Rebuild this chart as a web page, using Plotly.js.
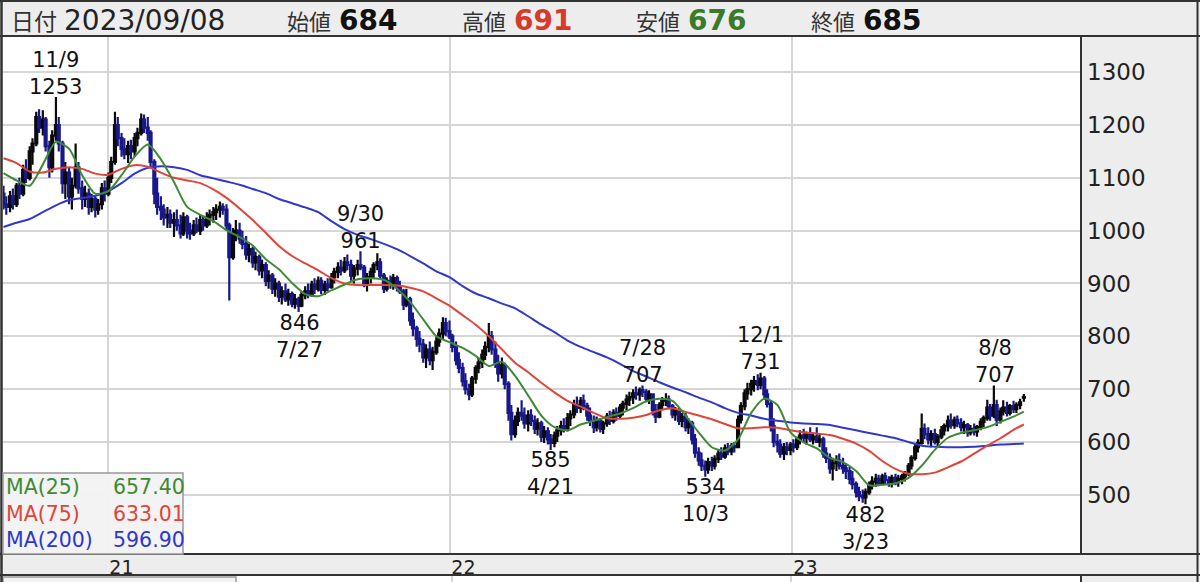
<!DOCTYPE html>
<html>
<head>
<meta charset="utf-8">
<script src="https://cdn.plot.ly/plotly-3.0.1.min.js"></script>
<style>html,body{margin:0;padding:0;background:#ededed;}#chart{width:1200px;height:582px;}</style>
</head>
<body>
<div id="chart"></div>
<script>
// ---- candle data (twice-weekly samples) ----
const dates = [
'200914','200917','200921','200924','200928','201001','201005','201008','201012','201015','201019','201022','201026','201029','201102','201105',
'201109','201112','201116','201119','201123','201126','201130','201203','201207','201210','201214','201217','201221','201224','201228','201231',
'210104','210107','210111','210114','210118','210121','210125','210128','210201','210204','210208','210211','210215','210218','210222','210225',
'210301','210304','210308','210311','210315','210318','210322','210325','210329','210401','210405','210408','210412','210415','210419','210422',
'210426','210429','210503','210506','210510','210513','210517','210520','210524','210527','210531','210603','210607','210610','210614','210617',
'210621','210624','210628','210701','210705','210708','210712','210715','210719','210722','210726','210729','210802','210805','210809','210812',
'210816','210819','210823','210826','210830','210902','210906','210909','210913','210916','210920','210923','210927','210930','211004','211007',
'211011','211014','211018','211021','211025','211028','211101','211104','211108','211111','211115','211118','211122','211125','211129','211202',
'211206','211209','211213','211216','211220','211223','211227','211230','220103','220106','220110','220113','220117','220120','220124','220127',
'220131','220203','220207','220210','220214','220217','220221','220224','220228','220303','220307','220310','220314','220317','220321','220324',
'220328','220331','220404','220407','220411','220414','220418','220421','220425','220428','220502','220505','220509','220512','220516','220519',
'220523','220526','220530','220602','220606','220609','220613','220616','220620','220623','220627','220630','220704','220707','220711','220714',
'220718','220721','220725','220728','220801','220804','220808','220811','220815','220818','220822','220825','220829','220901','220905','220908',
'220912','220915','220919','220922','220926','220929','221003','221006','221010','221013','221017','221020','221024','221027','221031','221103',
'221107','221110','221114','221117','221121','221124','221128','221201','221205','221208','221212','221215','221219','221222','221226','221229',
'230102','230105','230109','230112','230116','230119','230123','230126','230130','230202','230206','230209','230213','230216','230220','230223',
'230227','230302','230306','230309','230313','230316','230320','230323','230327','230330','230403','230406','230410','230413','230417','230420',
'230424','230427','230501','230504','230508','230511','230515','230518','230522','230525','230529','230601','230605','230608','230612','230615',
'230619','230622','230626','230629','230703','230706','230710','230713','230717','230720','230724','230727','230731','230803','230807','230810',
'230814','230817','230821','230824','230828','230831','230904','230908'];
const open = [
1070,1050,1045,1065,1050,1085,1070,1115,1100,1150,1165,1215,1195,1210,1160,1120,
1180,1200,1165,1090,1110,1065,1085,1120,1080,1060,1070,1045,1060,1040,1050,1080,
1070,1100,1130,1200,1175,1155,1145,1160,1150,1175,1185,1210,1195,1185,1130,1070,
1045,1040,1025,1030,1015,1020,1010,995,1025,1000,995,1010,1000,1020,1010,1025,
1030,1035,1040,1045,1040,1010,950,995,1000,985,975,955,965,940,950,925,
935,905,915,890,900,875,885,870,880,862,870,858,878,885,880,898,
890,905,888,898,893,912,922,930,925,940,935,915,928,935,930,900,
912,922,935,940,915,890,905,900,910,895,885,860,870,830,815,795,
785,760,775,755,770,790,805,825,810,800,780,755,740,715,700,690,
720,740,750,765,780,800,775,750,730,745,710,655,615,640,655,650,
635,650,640,625,635,610,620,605,598,612,622,630,625,645,652,670,
665,678,668,650,640,628,640,625,635,648,640,655,650,665,672,680,
685,692,690,698,695,682,690,660,648,670,678,680,668,652,660,640,
648,628,635,605,580,565,555,548,562,555,568,578,572,588,582,592,
590,642,668,692,700,710,715,708,720,690,672,630,600,595,578,590,
585,595,590,605,612,608,615,605,610,600,605,578,570,550,560,565,
555,550,545,530,520,505,498,495,505,518,525,530,522,535,528,522,
532,525,530,535,540,555,570,590,598,625,615,605,615,600,610,622,
630,640,632,642,635,628,632,618,625,620,628,638,645,665,650,670,
642,658,665,655,668,662,670,684];
const high = [
1085,1065,1075,1080,1090,1100,1125,1135,1160,1175,1225,1230,1228,1215,1170,1190,
1253,1215,1170,1130,1120,1100,1165,1130,1095,1085,1080,1070,1065,1060,1090,1095,
1110,1140,1225,1215,1185,1175,1170,1172,1185,1195,1222,1220,1215,1190,1135,1100,
1065,1050,1045,1040,1035,1040,1030,1035,1030,1015,1020,1025,1030,1028,1035,1040,
1045,1050,1055,1052,1050,1015,1005,1020,1015,1000,990,975,970,960,955,945,
940,925,920,910,905,895,900,890,885,880,875,885,895,900,905,910,
913,912,905,910,920,930,940,945,950,955,945,935,945,961,935,920,
930,940,957,948,920,912,915,918,915,905,890,890,875,845,820,810,
795,785,790,780,800,815,836,835,830,805,790,770,750,730,710,725,
745,760,775,790,825,810,790,765,760,750,715,670,650,665,679,665,
660,662,650,645,640,630,628,615,620,630,640,645,655,660,680,686,
685,690,674,665,650,648,645,640,655,659,662,665,672,678,690,695,
700,705,703,707,700,698,692,672,675,685,692,688,672,666,665,655,
655,645,640,615,590,580,565,570,572,575,585,590,595,598,598,600,
650,675,700,712,718,725,728,731,725,700,679,645,615,605,598,600,
600,605,610,622,625,620,628,618,628,615,610,590,578,570,575,578,
570,560,553,545,525,515,510,512,525,535,540,538,540,542,535,538,
540,538,540,545,560,575,598,605,654,635,628,622,625,615,630,635,
650,654,648,650,645,640,636,632,635,632,645,650,680,672,707,680,
665,679,676,672,678,675,682,691];
const low = [
1040,1030,1035,1040,1045,1060,1065,1090,1095,1125,1160,1185,1180,1150,1100,1110,
1170,1150,1070,1060,1050,1040,1080,1070,1040,1045,1030,1035,1025,1030,1040,1055,
1065,1090,1125,1160,1140,1135,1128,1135,1140,1160,1180,1185,1170,1120,1050,1030,
1020,1010,1005,1005,988,1000,985,990,985,983,990,995,992,1000,1005,1010,
1015,1020,1025,1030,1000,868,945,980,975,965,945,940,930,925,915,910,
895,890,880,875,865,860,865,858,855,852,846,855,870,872,875,880,
885,880,878,885,890,900,910,915,920,925,905,900,915,925,893,885,
900,910,925,910,882,885,890,888,885,880,850,855,820,800,780,770,
750,740,745,736,765,780,795,800,795,770,745,730,705,690,679,685,
710,730,740,755,770,765,740,714,720,700,640,603,608,630,640,625,
620,630,615,612,600,598,595,585,590,600,612,618,620,630,645,655,
655,660,640,630,617,620,618,615,629,632,635,640,645,650,660,668,
672,680,678,685,675,672,650,636,645,660,668,662,645,640,632,628,
620,615,595,570,555,545,534,540,545,548,560,566,568,575,575,580,
588,635,660,680,688,695,698,700,680,665,620,590,580,570,566,575,
575,580,585,595,600,595,600,595,598,590,570,560,540,527,545,548,
540,530,520,510,495,488,485,482,500,510,515,516,518,520,515,514,
518,515,520,525,535,548,565,580,595,605,595,590,595,592,605,612,
620,625,625,628,620,615,610,612,612,610,622,628,640,640,645,630,
635,650,648,650,655,655,662,676];
const close = [
1050,1045,1065,1050,1085,1070,1115,1100,1150,1165,1215,1195,1210,1160,1120,1180,
1200,1165,1090,1110,1065,1085,1120,1080,1060,1070,1045,1060,1040,1050,1080,1070,
1100,1130,1200,1175,1155,1145,1160,1150,1175,1185,1210,1195,1185,1130,1070,1045,
1040,1025,1030,1015,1020,1010,995,1025,1000,995,1010,1000,1020,1010,1025,1030,
1035,1040,1045,1040,1010,950,995,1000,985,975,955,965,940,950,925,935,
905,915,890,900,875,885,870,880,862,870,858,878,885,880,898,890,
905,888,898,893,912,922,930,925,940,935,915,928,935,930,900,912,
922,935,940,915,890,905,900,910,895,885,860,870,830,815,795,785,
760,775,755,770,790,805,825,810,800,780,755,740,715,700,690,720,
740,750,765,780,800,775,750,730,745,710,655,615,640,655,650,635,
650,640,625,635,610,620,605,598,612,622,630,625,645,652,670,665,
678,668,650,640,628,640,625,635,648,640,655,650,665,672,680,685,
692,690,698,695,682,690,660,648,670,678,680,668,652,660,640,648,
628,635,605,580,565,555,548,562,555,568,578,572,588,582,592,590,
642,668,692,700,710,715,708,720,690,672,630,600,595,578,590,585,
595,590,605,612,608,615,605,610,600,605,578,570,550,560,565,555,
550,545,530,520,505,498,495,505,518,525,530,522,535,528,522,532,
525,530,535,540,555,570,590,598,625,615,605,615,600,610,622,630,
640,632,642,635,628,632,618,625,620,628,638,645,665,650,670,642,
658,665,655,668,662,670,675,685];

// ---- moving averages (bi-weekly) ----
const maDates = ['200914','200928','201012','201026','201109','201123','201207','201221','210104','210118','210201','210215','210301','210315','210329','210412','210426','210510','210524','210607','210621','210705','210719','210802','210816','210830','210913','210927','211011','211025','211108','211122','211206','211220','220103','220117','220131','220214','220228','220314','220328','220411','220425','220509','220523','220606','220620','220704','220718','220801','220815','220829','220912','220926','221010','221024','221107','221121','221205','221219','230102','230116','230130','230213','230227','230313','230327','230410','230424','230508','230522','230605','230619','230703','230717','230731','230814','230828','230908'];
const ma25 = [1109,1095,1085,1125,1168,1155,1105,1070,1075,1105,1140,1163,1135,1092,1045,1030,1018,1001,988,972,946,927,901,880,876,887,898,908,910,907,890,865,832,800,789,778,763,744,752,725,688,650,628,622,633,640,647,654,664,677,682,678,650,618,590,584,605,655,682,670,618,599,588,570,562,545,518,519,522,532,555,585,608,617,622,628,638,648,657.40];
const ma75 = [1137,1128,1112,1110,1117,1120,1117,1108,1106,1117,1124,1121,1110,1100,1095,1090,1078,1062,1042,1020,996,971,952,938,925,910,900,897,897,897,896,892,885,872,858,840,822,800,775,750,732,712,694,678,667,655,645,644,646,651,660,664,657,650,643,634,626,626,628,627,622,618,616,613,606,597,583,564,549,540,539,542,552,563,578,593,607,623,633.01];
const ma200 = [1007,1015,1022,1035,1048,1058,1062,1066,1075,1090,1108,1119,1122,1120,1115,1105,1099,1093,1087,1079,1071,1060,1052,1044,1035,1018,1003,992,984,975,965,952,938,923,912,895,881,872,862,853,838,822,808,792,780,770,760,748,734,724,713,703,694,684,675,664,655,650,644,640,637,635,634,632,627,622,617,612,607,600,593,591,590,590,591,593,595,596,596.90];
const maNames = ['MA(25)','MA(75)','MA(200)'];
const maColors = ['#3f8a35','#e0453a','#3038cc'];

// ---- marked highs / lows ----
const extDates = ['2020-11-09','2021-07-27','2021-09-30','2022-04-21','2022-07-28','2022-10-03','2022-12-01','2023-03-23','2023-08-08'];
const extValues = [1253,846,961,585,707,534,731,482,707];
const extKinds = ['high','low','high','low','high','low','high','low','high'];

// ---- axis ticks ----
const yTicks = [500,600,700,800,900,1000,1100,1200,1300];
const xTickDates = ['2021-01-04','2022-01-04','2023-01-04'];
const xTickText = ['21','22','23'];
const headerNames = ['始値','高値','安値','終値'];

// ---------------------------------------------------------------
const iso = s => '20'+s.slice(0,2)+'-'+s.slice(2,4)+'-'+s.slice(4,6);
const W=1200, H=582, L=3, R=1081, T=37, B=553;
const X = p => (p-L)/(R-L);
const Y = p => (B-p)/(B-T);
const NUM = 'DejaVu Sans, Noto Sans CJK JP, sans-serif';
const CJK = 'Noto Sans CJK JP, DejaVu Sans, sans-serif';

const candleColorDown = '#18188a';
const traces = [{
  type:'candlestick', x: dates.map(iso), open, high, low, close,
  increasing:{line:{color:'#0a0a0a',width:2.2}, fillcolor:'#0a0a0a'},
  decreasing:{line:{color:candleColorDown,width:2.2}, fillcolor:candleColorDown},
  whiskerwidth:0, hoverinfo:'skip', showlegend:false
}];
const maSeries = [ma25, ma75, ma200];
[2,1,0].forEach(i => traces.push({
  type:'scatter', mode:'lines', x: maDates.map(iso), y: maSeries[i],
  line:{color:maColors[i], width:2, shape:'spline', smoothing:0.7},
  hoverinfo:'skip', showlegend:false
}));

const ann = [];
// extreme labels (date on top line for highs, value on top line for lows)
extDates.forEach((d,i) => {
  const [yy,mm,dd] = d.split('-');
  const isHigh = extKinds[i]==='high';
  const dt = (+mm)+'/'+(+dd), v = String(extValues[i]);
  ann.push({x:d, y:extValues[i], xref:'x', yref:'y', showarrow:false,
    xanchor:'center', yanchor:'middle', yshift: isHigh ? 24 : -24,
    text: isHigh ? dt+'<br>'+v : v+'<br>'+dt,
    font:{family:NUM, size:21, color:'#111'}});
});
// header
const last = dates.length-1;
const hdrY = Y(20.5);
const lastISO = iso(dates[last]).replace(/-/g,'/');
const hv = [open[last], high[last], low[last], close[last]];
const hc = ['#111111','#d63a2c','#3a7a2a','#111111'];
const hx = [285,460,634,809];
ann.push({xref:'paper',yref:'paper',x:X(9),y:hdrY,xanchor:'left',yanchor:'middle',showarrow:false,
  text:'日付',font:{family:CJK,size:23,color:'#333'}});
ann.push({xref:'paper',yref:'paper',x:X(62),y:hdrY,xanchor:'left',yanchor:'middle',showarrow:false,
  text:lastISO,font:{family:NUM,size:28,color:'#222'}});
headerNames.forEach((n,i) => {
  ann.push({xref:'paper',yref:'paper',x:X(hx[i]),y:hdrY,xanchor:'left',yanchor:'middle',showarrow:false,
    text:n,font:{family:CJK,size:22,color:'#333'}});
  ann.push({xref:'paper',yref:'paper',x:X(hx[i]+52),y:hdrY,xanchor:'left',yanchor:'middle',showarrow:false,
    text:'<b>'+hv[i]+'</b>',font:{family:NUM,size:28,color:hc[i]}});
});
// MA legend box text
const rowY = [487,514,540];
maNames.forEach((n,i) => {
  const v = maSeries[i][maSeries[i].length-1].toFixed(2);
  ann.push({xref:'paper',yref:'paper',x:X(4),y:Y(rowY[i]),xanchor:'left',yanchor:'middle',showarrow:false,
    text:n,font:{family:NUM,size:20.5,color:maColors[i]}});
  ann.push({xref:'paper',yref:'paper',x:X(111),y:Y(rowY[i]),xanchor:'left',yanchor:'middle',showarrow:false,
    text:v,font:{family:NUM,size:20.5,color:maColors[i]}});
});

const dark = '#333333';
const shapes = [
  // bottom (next panel) white strip
  {type:'rect',xref:'paper',yref:'paper',x0:X(3),x1:X(R),y0:Y(576),y1:Y(584),fillcolor:'#ffffff',line:{width:0},layer:'below'},
  {type:'line',xref:'paper',yref:'paper',x0:X(452),x1:X(452),y0:Y(576),y1:Y(584),line:{color:'#d6d6d6',width:2}},
  {type:'line',xref:'paper',yref:'paper',x0:X(791),x1:X(791),y0:Y(576),y1:Y(584),line:{color:'#d6d6d6',width:2}},
  {type:'rect',xref:'paper',yref:'paper',x0:X(3),x1:X(236),y0:Y(577),y1:Y(590),fillcolor:'#f2f2f2',line:{color:'#999',width:1.5}},
  // header bottom line
  {type:'line',xref:'paper',yref:'paper',x0:X(0),x1:X(1200),y0:Y(36),y1:Y(36),line:{color:dark,width:2}},
  // x band lines
  {type:'line',xref:'paper',yref:'paper',x0:X(0),x1:X(1200),y0:Y(554),y1:Y(554),line:{color:dark,width:2}},
  {type:'line',xref:'paper',yref:'paper',x0:X(0),x1:X(1200),y0:Y(575),y1:Y(575),line:{color:dark,width:2}},
  // plot right border
  {type:'line',xref:'paper',yref:'paper',x0:X(R),x1:X(R),y0:Y(36),y1:Y(554),line:{color:dark,width:2}},
  {type:'line',xref:'paper',yref:'paper',x0:X(R),x1:X(R),y0:Y(575),y1:Y(584),line:{color:dark,width:2}},
  // outer frame
  {type:'line',xref:'paper',yref:'paper',x0:X(1.5),x1:X(1.5),y0:Y(0),y1:Y(584),line:{color:dark,width:2.5}},
  {type:'line',xref:'paper',yref:'paper',x0:X(1197.5),x1:X(1197.5),y0:Y(0),y1:Y(584),line:{color:dark,width:2}},
  {type:'line',xref:'paper',yref:'paper',x0:X(0),x1:X(1200),y0:Y(1),y1:Y(1),line:{color:dark,width:2}},
  // MA legend box
  {type:'rect',xref:'paper',yref:'paper',x0:X(3),x1:X(183),y0:Y(554),y1:Y(473),fillcolor:'rgba(242,242,242,0.96)',line:{color:'#999',width:1.5},layer:'above'}
];

const layout = {
  width:W, height:H,
  margin:{l:L, r:W-R, t:T, b:H-B, pad:0},
  paper_bgcolor:'#ededed', plot_bgcolor:'#ffffff',
  showlegend:false, hovermode:false, boxgap:0, dragmode:false,
  xaxis:{type:'date', range:['2020-09-13 12:00','2023-11-08'], rangeslider:{visible:false},
    tickvals:xTickDates, ticktext:xTickText, ticks:'', showline:false, zeroline:false,
    showgrid:true, gridcolor:'#d6d6d6', gridwidth:2, ticklabelshift:13, ticklabelstandoff:1,
    tickfont:{family:NUM, size:19, color:'#222'}, fixedrange:true},
  yaxis:{side:'right', range:[389.8,1366.6], tickvals:yTicks, ticks:'', showline:false, zeroline:false,
    showgrid:true, gridcolor:'#d6d6d6', gridwidth:2, ticklabelstandoff:5,
    tickfont:{family:NUM, size:23, color:'#222'}, fixedrange:true},
  shapes, annotations: ann
};
Plotly.newPlot('chart', traces, layout, {staticPlot:true, displayModeBar:false});
</script>
</body>
</html>
